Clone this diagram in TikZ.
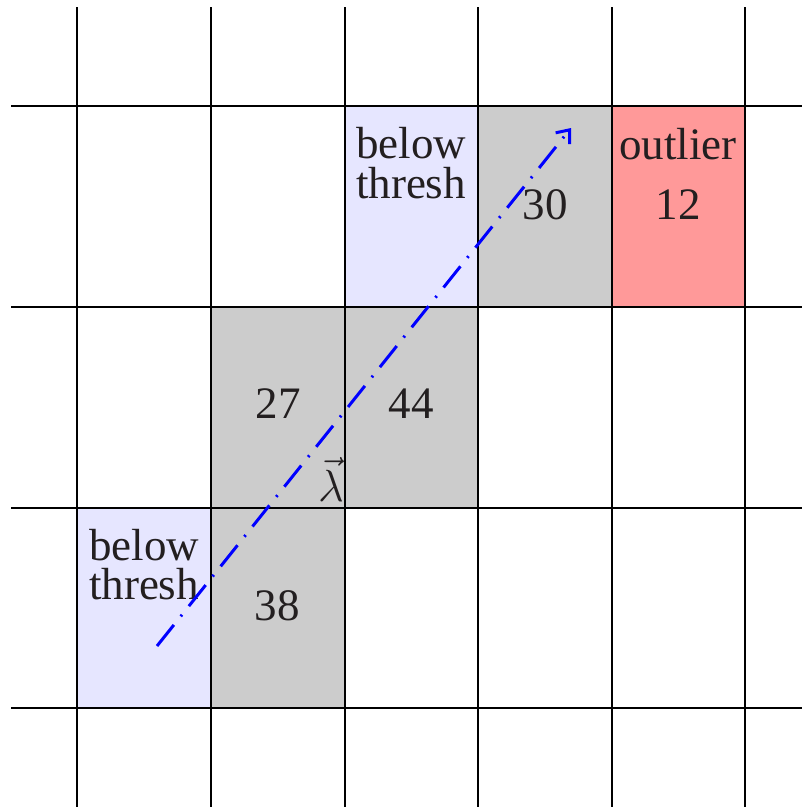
\documentclass[tikz,border=0pt]{standalone}
\usepackage{fix-cm}
\usepackage{fontspec}
\setmainfont{Liberation Serif}
\usetikzlibrary{arrows.meta}
\definecolor{lowblue}{HTML}{E6E6FF}
\definecolor{cellgray}{HTML}{CCCCCC}
\definecolor{outred}{HTML}{FF9999}
\definecolor{ink}{HTML}{231F20}
\begin{document}
\begin{tikzpicture}[x=1pt,y=-1pt,
  cell/.style={draw=none, minimum width=134pt, minimum height=201pt, inner sep=0pt, outer sep=0pt, anchor=north west},
  lowcell/.style={cell, fill=lowblue},
  graycell/.style={cell, fill=cellgray},
  redcell/.style={cell, fill=outred},
  gridline/.style={line width=2.8pt, black},
  lbl/.style={anchor=base, inner sep=0pt, text=ink, font=\fontsize{45}{40}\selectfont},
  vecarrow/.style={blue, line width=3pt, dash pattern=on 27pt off 11pt on 2pt off 11pt, -{Straight Barb[length=11pt,width=18pt,line width=3pt]}}
]
\useasboundingbox (0,0) rectangle (802,807);
% filled cells
\node[lowcell]  (c1) at (345,106) {};
\node[graycell] (c2) at (478,106) {};
\node[redcell]  (c3) at (612,106) {};
\node[graycell] (c4) at (211,307) {};
\node[graycell] (c5) at (345,307) {};
\node[lowcell]  (c6) at (77,508) {};
\node[graycell] (c7) at (211,508) {};
% grid
\foreach \x [count=\i] in {77,211,345,478,612,745} {
  \coordinate (vt\i) at (\x,7);
  \coordinate (vb\i) at (\x,807);
  \draw[gridline] (vt\i) -- (vb\i);
}
\foreach \y [count=\i] in {106,307,508,708} {
  \coordinate (hl\i) at (11,\y);
  \coordinate (hr\i) at (802,\y);
  \draw[gridline] (hl\i) -- (hr\i);
}
% labels
\node[lbl] (t1a) at (411,158) {below};
\node[lbl] (t1b) at (411,198) {thresh};
\node[lbl] (t2)  at (545,219) {30};
\node[lbl] (t3a) at (678,159) {outlier};
\node[lbl] (t3b) at (678,219) {12};
\node[lbl] (t4)  at (278,418) {27};
\node[lbl] (t5)  at (411,418) {44};
\node[lbl] (t6a) at (144,560) {below};
\node[lbl] (t6b) at (144,599) {thresh};
\node[lbl] (t7)  at (277,620) {38};
\node[lbl, anchor=base east] (lam) at (344,501) {$\vec{\lambda}$};
% arrow
\coordinate (as) at (157,646);
\coordinate (ae) at (571,128);
\draw[vecarrow] (as) -- (ae);
\end{tikzpicture}
\end{document}
